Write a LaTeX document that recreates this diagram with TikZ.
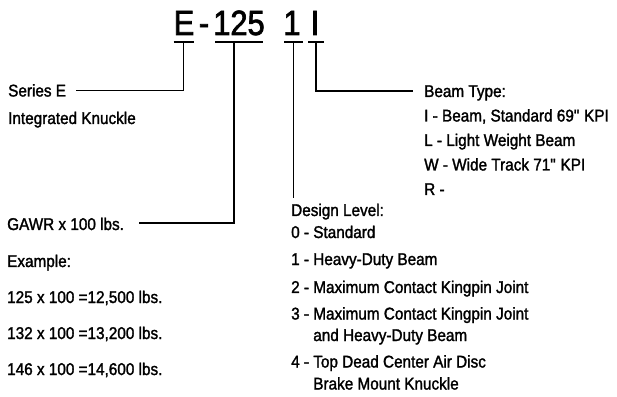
\documentclass[tikz,border=0pt]{standalone}
\usepackage{fontspec}
\setmainfont{Liberation Sans}[FakeStretch=0.9, FakeBold=1.6]
\newfontfamily\codefont{Liberation Sans}[FakeStretch=0.88, FakeBold=2]
\usetikzlibrary{positioning}

\begin{document}
\begin{tikzpicture}[
    x=1pt, y=1pt,
    code/.style={font=\codefont\fontsize{35}{40}\selectfont, inner sep=0pt, anchor=base},
    txt/.style={font=\fontsize{17}{22}\selectfont, inner sep=0pt, anchor=base west},
    bar/.style={line width=1.8pt},
    conn/.style={line width=1.8pt}
]
\useasboundingbox (0,0) rectangle (617,396);

% Part number
\node[code] (e) at (184,361) {E};
\node[code] (dash) at (204,361) {-};
\node[code] (num) at (239,361) {125};
\node[code] (lvl) at (292,361) {1};
\node[code] (beam) at (315,361) {I};

% Taps under the code
\coordinate (e_tap) at (183.5,354);
\coordinate (num_tap) at (234,354);
\coordinate (lvl_tap) at (293.5,354);
\coordinate (beam_tap) at (316,354);
\draw[bar] ([xshift=-10pt]e_tap) -- ([xshift=10pt]e_tap);
\draw[bar] ([xshift=-19pt]num_tap) -- ([xshift=29pt]num_tap);
\draw[bar] ([xshift=-9.5pt]lvl_tap) -- ([xshift=9.5pt]lvl_tap);
\draw[bar] ([xshift=-8pt]beam_tap) -- ([xshift=8pt]beam_tap);

% Series
\node[txt] (series) at (8,299.5) {Series E};
\node[below=27.5pt of series.base west, txt] (knuckle) {Integrated Knuckle};

% GAWR
\node[txt] (gawr) at (7,166) {GAWR x 100 lbs.};
\node[below=37pt of gawr.base west, txt] (example) {Example:};
\node[below=36pt of example.base west, txt] (ex1) {125 x 100 =12,500 lbs.};
\node[below=36pt of ex1.base west, txt] (ex2) {132 x 100 =13,200 lbs.};
\node[below=36pt of ex2.base west, txt] (ex3) {146 x 100 =14,600 lbs.};

% Design level
\node[txt] (dlvl) at (291,180) {Design Level:};
\node[below=22pt of dlvl.base west, txt] (d0) {0 - Standard};
\node[below=27pt of d0.base west, txt] (d1) {1 - Heavy-Duty Beam};
\node[below=28pt of d1.base west, txt] (d2) {2 - Maximum Contact Kingpin Joint};
\node[below=26.5pt of d2.base west, txt] (d3) {3 - Maximum Contact Kingpin Joint};
\node[below=21.5pt of d3.base west, txt] (d3b) {\phantom{3 - }and Heavy-Duty Beam};
\node[below=26.5pt of d3b.base west, txt] (d4) {4 - Top Dead Center Air Disc};
\node[below=22pt of d4.base west, txt] (d4b) {\phantom{4 - }Brake Mount Knuckle};

% Beam type
\node[txt] (btype) at (424,299) {Beam Type:};
\node[below=24.5pt of btype.base west, txt] (b1) {I - Beam, Standard 69\textquotedbl{} KPI};
\node[below=24.5pt of b1.base west, txt] (b2) {L - Light Weight Beam};
\node[below=24.5pt of b2.base west, txt] (b3) {W - Wide Track 71\textquotedbl{} KPI};
\node[below=24.5pt of b3.base west, txt] (b4) {R -};

% Connectors
\draw[conn] (e_tap) |- ([xshift=10pt,yshift=6pt]series.base east);
\draw[conn] (num_tap) |- ([xshift=15pt,yshift=7pt]gawr.base east);
\draw[conn] (lvl_tap) -- ([yshift=5pt]lvl_tap |- dlvl.north);
\draw[conn] (beam_tap) |- ([xshift=-11pt,yshift=6pt]btype.base west);

\end{tikzpicture}
\end{document}
